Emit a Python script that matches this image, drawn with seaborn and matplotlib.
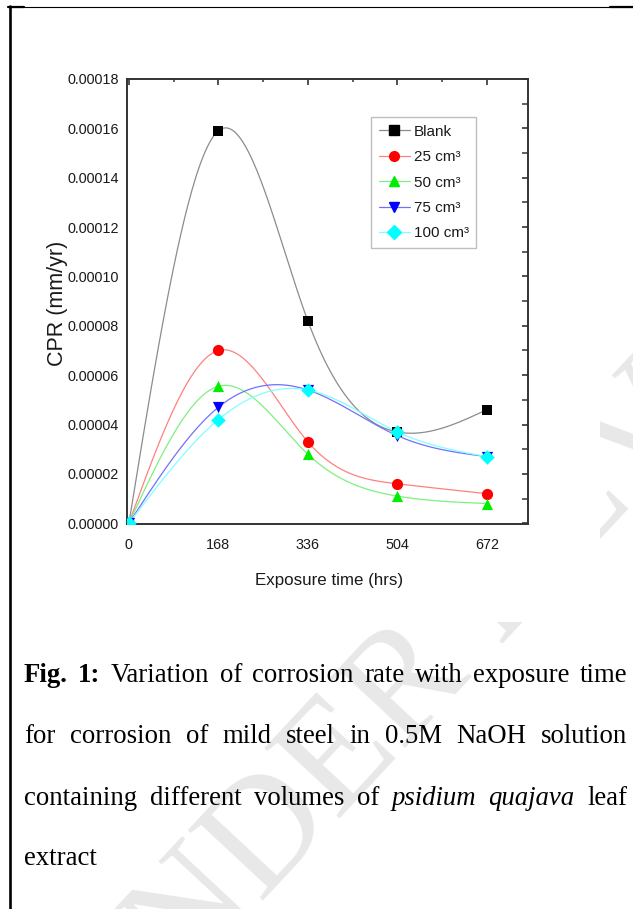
import numpy as np
import pandas as pd
import matplotlib
matplotlib.use("Agg")
import matplotlib.pyplot as plt
import seaborn as sns
from matplotlib.lines import Line2D
from matplotlib.patches import Rectangle

# ---------------- data ----------------
hours = [0, 168, 336, 504, 672]
blank = [0.0, 0.000159, 0.000082, 0.000037, 0.000046]
cm25 = [0.0, 0.000070, 0.000033, 0.000016, 0.000012]
cm50 = [0.0, 0.0000555, 0.000028, 0.000011, 0.000008]
cm75 = [0.0, 0.000047, 0.000054, 0.0000355, 0.000027]
cm100 = [0.0, 0.000042, 0.000054, 0.000037, 0.000027]
series_names = ["Blank", "25 cm³", "50 cm³", "75 cm³", "100 cm³"]
x_ticks = [0, 168, 336, 504, 672]
y_ticks = [0.0, 0.00002, 0.00004, 0.00006, 0.00008, 0.00010, 0.00012,
           0.00014, 0.00016, 0.00018]

colors = ["#000000", "#ff0000", "#00ee00", "#0000ff", "#00ffff"]
line_colors = ["#8c8c8c", "#ff8080", "#7ff07f", "#7070ff", "#80ffff"]
markers = ["s", "o", "^", "v", "D"]
msizes = [60, 65, 65, 65, 55]

W, H = 633, 909
fig = plt.figure(figsize=(W / 100, H / 100), dpi=100)
sns.set_style("white")
plt.rcParams["font.family"] = ["Liberation Sans", "DejaVu Sans"]


def px(x, y):
    return x / W, 1 - y / H


def natural_spline(x, y, xs):
    x = np.asarray(x, float)
    y = np.asarray(y, float)
    n = len(x)
    h = np.diff(x)
    A = np.zeros((n, n))
    b = np.zeros(n)
    A[0, 0] = 1
    A[-1, -1] = 1
    for i in range(1, n - 1):
        A[i, i - 1] = h[i - 1]
        A[i, i] = 2 * (h[i - 1] + h[i])
        A[i, i + 1] = h[i]
        b[i] = 3 * ((y[i + 1] - y[i]) / h[i] - (y[i] - y[i - 1]) / h[i - 1])
    c = np.linalg.solve(A, b)
    out = np.empty_like(xs)
    for k, xv in enumerate(xs):
        i = min(max(np.searchsorted(x, xv) - 1, 0), n - 2)
        dx = xv - x[i]
        bi = (y[i + 1] - y[i]) / h[i] - h[i] * (2 * c[i] + c[i + 1]) / 3
        di = (c[i + 1] - c[i]) / (3 * h[i])
        out[k] = y[i] + bi * dx + c[i] * dx ** 2 + di * dx ** 3
    return out


# ---------------- axes ----------------
ax = fig.add_axes([127.3 / W, 1 - 524 / H, (528.3 - 127.3) / W, (524 - 79) / H])
ax.set_zorder(3)

all_series = [blank, cm25, cm50, cm75, cm100]
points = pd.DataFrame({
    "hours": np.tile(hours, len(all_series)),
    "cpr": np.concatenate(all_series),
    "series": np.repeat(series_names, len(hours)),
})
xs = np.linspace(0, 672, 400)
curves = pd.concat([
    pd.DataFrame({"hours": xs, "cpr": natural_spline(hours, s, xs), "series": nm})
    for s, nm in zip(all_series, series_names)
])

sns.lineplot(data=curves, x="hours", y="cpr", hue="series", hue_order=series_names,
             palette=dict(zip(series_names, line_colors)), linewidth=0.9,
             legend=False, ax=ax, sort=False, estimator=None)
for nm, c, m, s in zip(series_names, colors, markers, msizes):
    sns.scatterplot(data=points[points.series == nm], x="hours", y="cpr",
                    color=c, marker=m, s=s, linewidth=0, ax=ax, legend=False,
                    zorder=5)

ax.set_xlim(-3, 750)
ax.set_ylim(-3e-7, 0.00018)
ax.set_xticks(x_ticks)
ax.set_xticks([84, 252, 420, 588], minor=True)
ax.set_yticks(y_ticks)
ax.set_yticks(np.arange(0.00001, 0.00018, 0.00002), minor=True)
ax.set_xticklabels([str(v) for v in x_ticks])
ax.set_yticklabels([f"{v:.5f}" for v in y_ticks])
for sp in ax.spines.values():
    sp.set_color("#333333")
    sp.set_linewidth(1.4)
    sp.set_visible(True)
ax.tick_params(axis="both", which="major", direction="out", length=4, width=1.2,
               color="#333333", labelsize=10.4, labelcolor="#1a1a1a", pad=2)
ax.tick_params(axis="both", which="minor", direction="out", length=2.5, width=1.1,
               color="#333333")
ax.tick_params(axis="x", which="major", pad=6)
# mirror ticks on top/right pointing inward
ax2 = ax.secondary_xaxis("top")
ax2.set_xticks(x_ticks)
ax2.set_xticks([84, 252, 420, 588], minor=True)
ax2.tick_params(which="major", direction="in", length=4, width=1.2, color="#333333",
                labeltop=False)
ax2.tick_params(which="minor", direction="in", length=2.5, width=1.1, color="#333333")
ax3 = ax.secondary_yaxis("right")
ax3.set_yticks(y_ticks)
ax3.set_yticks(np.arange(0.00001, 0.00018, 0.00002), minor=True)
ax3.tick_params(which="major", direction="in", length=4, width=1.2, color="#333333",
                labelright=False)
ax3.tick_params(which="minor", direction="in", length=4, width=1.1, color="#333333")
for a in (ax2, ax3):
    for sp in a.spines.values():
        sp.set_visible(False)

ax.set_xlabel("")
ax.set_ylabel("")
fig.text(*px(329, 581), "Exposure time (hrs)", ha="center", va="center",
         fontsize=12.2, color="#1a1a1a")
fig.text(*px(57, 303), "CPR (mm/yr)", ha="center", va="center", rotation=90,
         fontsize=15.5, color="#1a1a1a")

handles = [Line2D([0], [0], color=lc, lw=0.9, marker=m, markersize=7,
                  markerfacecolor=c, markeredgecolor=c)
           for lc, c, m in zip(line_colors, colors, markers)]
leg = ax.legend(handles, series_names, loc="upper left",
                bbox_to_anchor=((371 - 127.3) / 401, 1 - (117 - 79) / 445),
                fontsize=11, frameon=True, fancybox=False, handlelength=2.05,
                handletextpad=0.25, labelspacing=0.75, borderpad=0.5,
                borderaxespad=0)
leg.get_frame().set_edgecolor("#b0b0b0")
leg.get_frame().set_linewidth(1.0)
for t in leg.get_texts():
    t.set_color("#1a1a1a")

# ---------------- page elements ----------------
# chart image background (covers watermark)
fig.patches.append(Rectangle(px(15, 622), 585 / W, 607 / H, transform=fig.transFigure,
                             facecolor="white", edgecolor="none", zorder=1))
# watermark
fig.text(*px(482, 610), "UNDER REVIEW", ha="center", va="center", rotation=47,
         rotation_mode="anchor", fontsize=112, color="#e8e8e8",
         family=["Liberation Serif", "DejaVu Serif"], zorder=0.5)

# page borders
fig.add_artist(Line2D([9.5 / W, 9.5 / W], [1 - 6 / H, 0], transform=fig.transFigure,
                      color="black", lw=1.9, zorder=4))
fig.add_artist(Line2D([8 / W, 1], [1 - 6.8 / H, 1 - 6.8 / H], transform=fig.transFigure,
                      color="black", lw=0.8, zorder=4))
fig.add_artist(Line2D([8 / W, 24 / W], [1 - 7.3 / H, 1 - 7.3 / H], transform=fig.transFigure,
                      color="black", lw=1.6, zorder=4))
fig.add_artist(Line2D([610 / W, 1], [1 - 7.3 / H, 1 - 7.3 / H], transform=fig.transFigure,
                      color="black", lw=1.6, zorder=4))

# caption (justified)
serif = ["Liberation Serif", "DejaVu Serif"]
cap_size = 19.3
lines = [
    ([("Fig.", "bold", "normal"), ("1:", "bold", "normal"), ("Variation", "normal", "normal"),
      ("of", "normal", "normal"), ("corrosion", "normal", "normal"), ("rate", "normal", "normal"),
      ("with", "normal", "normal"), ("exposure", "normal", "normal"), ("time", "normal", "normal")],
     681.5, True),
    ([(w, "normal", "normal") for w in "for corrosion of mild steel in 0.5M NaOH solution".split()],
     743, True),
    ([("containing", "normal", "normal"), ("different", "normal", "normal"),
      ("volumes", "normal", "normal"), ("of", "normal", "normal"),
      ("psidium", "normal", "italic"), ("quajava", "normal", "italic"),
      ("leaf", "normal", "normal")], 805, True),
    ([("extract", "normal", "normal")], 865, False),
]
fig.canvas.draw()
renderer = fig.canvas.get_renderer()
x0, x1 = 24, 627
for words, yb, just in lines:
    arts = []
    for w, wt, st in words:
        t = fig.text(0, 0, w, fontsize=cap_size, fontweight=wt, fontstyle=st,
                     family=serif, ha="left", va="baseline", color="black", zorder=5)
        arts.append(t)
    widths = [t.get_window_extent(renderer).width for t in arts]
    if just and len(arts) > 1:
        gap = (x1 - x0 - sum(widths)) / (len(arts) - 1)
    else:
        gap = cap_size * 100 / 72 * 0.25
    xc = x0
    for t, wd in zip(arts, widths):
        t.set_position(px(xc, yb))
        xc += wd + gap

fig.savefig("out.png", dpi=100, facecolor="white")
